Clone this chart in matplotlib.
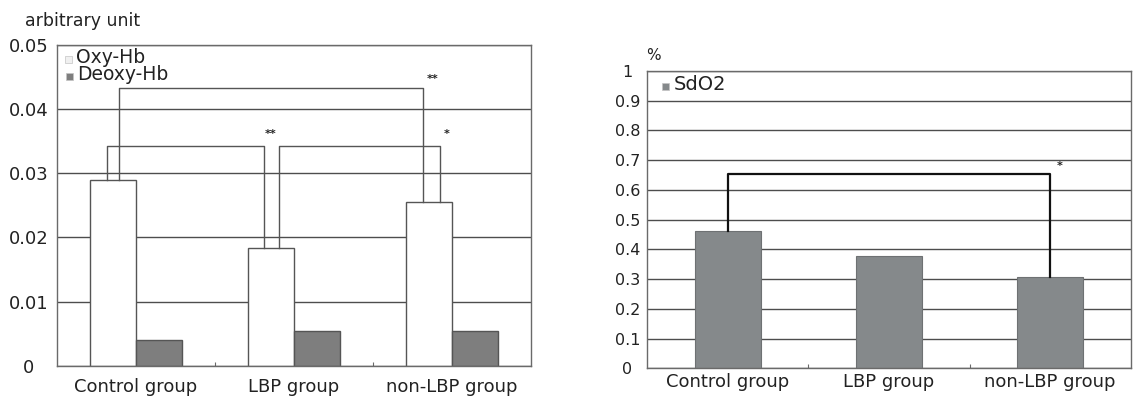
import matplotlib
matplotlib.use("Agg")
import matplotlib.pyplot as plt
from matplotlib.patches import Rectangle
from matplotlib.ticker import FixedLocator
from matplotlib.transforms import ScaledTranslation

# ---- data -------------------------------------------------------------
groups = ["Control group", "LBP group", "non-LBP group"]
oxy_hb = [0.0290, 0.0183, 0.0255]
deoxy_hb = [0.0041, 0.0054, 0.0055]
sdo2 = [0.461, 0.379, 0.306]

hb_ticks = [0, 0.01, 0.02, 0.03, 0.04, 0.05]
hb_tick_labels = ["0", "0.01", "0.02", "0.03", "0.04", "0.05"]
sat_ticks = [0, 0.1, 0.2, 0.3, 0.4, 0.5, 0.6, 0.7, 0.8, 0.9, 1.0]
sat_tick_labels = ["0", "0.1", "0.2", "0.3", "0.4", "0.5", "0.6", "0.7", "0.8", "0.9", "1"]

# significance brackets on the Oxy-Hb bars: (group a, group b, bracket height, mark)
hb_brackets = [
    (0, 1, 0.0342, "**"),
    (1, 2, 0.0342, "*"),
    (0, 2, 0.0432, "**"),
]
sat_brackets = [(0, 2, 0.652, "*")]

# ---- style -------------------------------------------------------------
plt.rcParams["font.family"] = ["DejaVu Sans"]
GRID = "#4d4d4d"
SPINE = "#6a6a6a"
OXY_MARK = "#f0f0f0"
DEOXY_COLOR = "#7e7e7e"
SAT_COLOR = "#85898b"
TEXT = "#222222"
DPI = 100

fig = plt.figure(figsize=(11.42, 3.96), dpi=DPI)
ax1 = fig.add_axes([57 / 1142, 30 / 396, 474 / 1142, 321.3 / 396])
ax2 = fig.add_axes([647.3 / 1142, 27.7 / 396, 483.4 / 1142, 297.3 / 396])

x = list(range(len(groups)))
w_hb = 0.29
PX = 72 / DPI  # points per pixel


def style_axes(ax, ticks, labels, fsize, pad_px, xpad_px, xfsize):
    ax.set_xlim(-0.5, len(groups) - 0.5)
    ax.set_yticks(ticks)
    ax.set_yticklabels(labels, fontsize=fsize, color=TEXT, ha="center")
    ax.tick_params(axis="y", length=0, pad=pad_px * PX)
    ax.set_xticks(x)
    ax.set_xticklabels(groups, fontsize=xfsize, color=TEXT)
    ax.tick_params(axis="x", which="major", length=0, pad=xpad_px * PX)
    ax.xaxis.set_minor_locator(FixedLocator([0.5, 1.5]))
    ax.tick_params(axis="x", which="minor", direction="in", length=3,
                   color=SPINE, width=0.8)
    ax.yaxis.grid(True, color=GRID, lw=1.0)
    ax.set_axisbelow(True)
    for s in ax.spines.values():
        s.set_color(SPINE)
        s.set_linewidth(1.0)


def key_entry(ax, dx, dy, label, color, fsize):
    """Small square swatch plus label; dx/dy are pixels from the axes' top-left."""
    corner = fig.dpi_scale_trans + ScaledTranslation(0, 1, ax.transAxes)
    sq = 7
    ax.add_patch(Rectangle((dx / DPI, -dy / DPI), sq / DPI, sq / DPI,
                           facecolor=color, edgecolor="#c4c4c4", lw=0.5,
                           clip_on=False, transform=corner, zorder=5))
    ax.text((dx + sq + 4) / DPI, -dy / DPI, label, fontsize=fsize, color=TEXT,
            ha="left", va="baseline", transform=corner, zorder=5)


# ---- left: Oxy-Hb / Deoxy-Hb --------------------------------------------
ax1.bar([i - w_hb / 2 for i in x], oxy_hb, width=w_hb, color="white",
        edgecolor="#555555", linewidth=1.0, zorder=2)
ax1.bar([i + w_hb / 2 for i in x], deoxy_hb, width=w_hb, color=DEOXY_COLOR,
        edgecolor="#555555", linewidth=1.0, zorder=2)
ax1.set_ylim(0, 0.05)
style_axes(ax1, hb_ticks, hb_tick_labels, 13, 28, 12, 13)

# leg positions inside each Oxy-Hb bar, per bracket (left leg, right leg)
leg_offsets = [(-0.184, -0.19), (-0.095, -0.076), (-0.108, -0.184)]
star_pos = [(0.854, 0.0361), (1.968, 0.0361), (1.880, 0.0447)]
for (a, b, h, mark), (oa, ob), (sx, sy) in zip(hb_brackets, leg_offsets, star_pos):
    xa, xb = a + oa, b + ob
    ax1.plot([xa, xa, xb, xb], [oxy_hb[a], h, h, oxy_hb[b]],
             color="#555555", lw=1.0, zorder=3)
    ax1.text(sx, sy, mark, fontsize=8, fontweight="bold", color=TEXT,
             ha="center", va="center", zorder=4)

key_entry(ax1, 8, 18.5, "Oxy-Hb", OXY_MARK, 13.5)
key_entry(ax1, 9, 35.5, "Deoxy-Hb", DEOXY_COLOR, 13.5)

fig.text(25 / 1142, 1 - 21 / 396, "arbitrary unit", fontsize=12.5,
         color=TEXT, ha="left", va="center")

# ---- right: SdO2 -----------------------------------------------------------
w_sat = 0.414
ax2.bar(x, sdo2, width=w_sat, color=SAT_COLOR, edgecolor="#6e7173",
        linewidth=0.8, zorder=2)
ax2.set_ylim(0, 1.0)
style_axes(ax2, sat_ticks, sat_tick_labels, 11.5, 20, 5, 13)

for a, b, h, mark in sat_brackets:
    ax2.plot([a, a, b, b], [sdo2[a], h, h, sdo2[b]], color="#111111",
             lw=1.6, zorder=3)
    ax2.text(2.062, 0.679, mark, fontsize=8, fontweight="bold", color=TEXT,
             ha="center", va="center", zorder=4)

key_entry(ax2, 15, 19, "SdO2", SAT_COLOR, 14)

fig.text(653 / 1142, 1 - 55 / 396, "%", fontsize=11, color=TEXT,
         ha="center", va="center")

fig.savefig("out.png", dpi=DPI, facecolor="white")
